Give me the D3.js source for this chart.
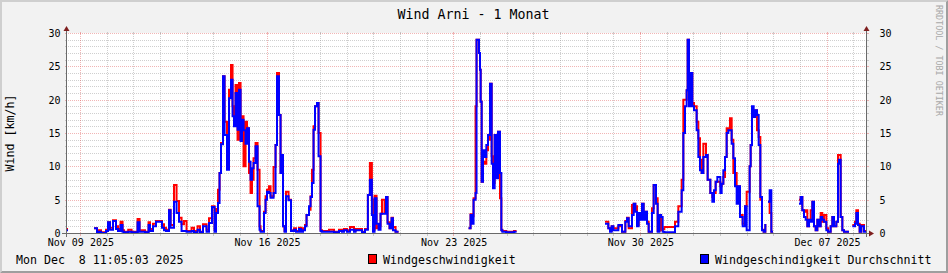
<!DOCTYPE html>
<html><head><meta charset="utf-8">
<script src="https://cdn.jsdelivr.net/npm/d3@7"></script>
<style>
html,body{margin:0;padding:0;background:#f2f2f2;}
svg{display:block;}
text{font-family:"DejaVu Sans Mono",monospace;fill:#000;}
</style></head><body>
<svg id="c" width="948" height="273"></svg>
<script>
// ---------------- data ----------------
const chartTitle = "Wind Arni - 1 Monat";
const yAxisLabel = "Wind [km/h]";
const watermark = "RRDTOOL / TOBI OETIKER";
const timestampText = "Mon Dec  8 11:05:03 2025";
const seriesNames = ["Windgeschwindigkeit", "Windgeschindigkeit Durchschnitt"];
const seriesColors = ["#ff0000", "#0000ff"];
const rangeStart = "2025-11-08T11:05:03Z";
const rangeEnd = "2025-12-08T11:05:03Z";
const yMax = 30;
const yTickValues = [0, 5, 10, 15, 20, 25, 30];
const dateTickValues = ["2025-11-09", "2025-11-16", "2025-11-23", "2025-11-30", "2025-12-07"];

// hours since rangeStart at which each step begins (step holds until next entry)
const hours = [
0,1.8,25.2,27.9,29.7,31.5,36,37.8,39.6,42.3,45,46.8,49.1,50.9,52.2,56,59,64.4,66.2,71.1,
74.3,75.6,78.3,81,86.4,88.2,90,92.7,94.1,97.2,99.5,101.7,104,106.2,108.5,113,115.2,118.4,120.6,123.3,
126.5,128.7,131.4,133.7,135,136.8,138.2,139.5,141.3,142.7,144.9,146.7,148.5,149.9,151.2,152.6,154.4,155.7,157.1,158.4,
159.8,161.6,162.9,164.7,166.1,167.4,168.8,170.6,172.4,174.2,175.1,178.2,179.6,180.9,182.7,184.1,186.8,188.6,189.9,191.7,
193.1,194,195.3,196.7,198,200.3,202.5,205.2,207,209.7,211.5,213.3,215.1,216.5,218.7,220.1,221.4,222.8,224.1,225.9,
227.3,229.1,230.4,236.7,241.2,245.7,248.4,250.2,252.9,255.6,259.2,260.6,266.4,269.1,271.7,273.5,275.3,276.3,277.7,279.5,
281.3,283.1,284.4,286.7,288,289.4,291.2,293,294.3,296.6,299.3,362.3,364.1,365.4,366.8,368.6,369.5,371.7,372.6,373.2,
374.1,375.3,376.8,378.3,379.8,381.6,383.1,384.3,385.8,387.3,388.8,390.6,391.8,392.7,396,403.2,405.5,485.1,488.1,489.6,
491.1,492.6,497.1,500.4,503.4,504.9,506.4,509.4,510.9,512.4,513.9,515.4,516.9,518.4,519.9,521.4,522.9,524.4,527.4,528.9,
531,532.5,534.1,535.6,537,538.5,548.1,551.1,554.1,555.6,557.1,558.6,559.5,560.7,562.2,563.7,565.2,567.6,569.1,570.6,
572.1,573.6,576,577.5,579.9,581.7,583.2,584.7,586.2,588.9,590.1,591.6,593.1,594.6,596.1,597.6,599.1,600.6,602.1,603.6,
605.1,606.6,609,611.1,612.6,615.3,616.2,617.4,618.9,620.4,621.9,623.4,624.9,626.4,627.9,629.4,630.3,631.8,633.3,634.8,
636.3,659.7,661.2,662.7,664.2,665.7,667.2,668.7,670.2,671.7,673.2,674.7,676.2,677.7,679.2,680.7,682.2,684.3,685.8,688.2,
689.7,691.2,693.3,694.8,695.7,697.2,698.7,700.2,704.7,707.7,710.1,711.3,712.8,714.3,715.8,718.2,720
];
// Windgeschwindigkeit (km/h), null = no data
const gust = [
0.6,null,0.7,0.1,0.4,0.1,0.5,1.6,0.8,1.9,1.0,0.6,1.7,0.4,0.2,0.5,0.2,2.1,0.4,0.2,
1.6,0.6,1.4,1.8,1.3,0.8,0.5,3.5,1.2,7.2,4.8,2.3,1.3,1.8,0.3,0.8,0.3,1.0,0.2,1.3,
0.5,2.2,4.0,0.5,3.6,6.5,9.0,13.5,23.5,16.7,11.2,21.5,25.2,19.0,16.5,22.2,14.0,22.5,14.5,17.5,
10.0,16.7,15.7,9.0,6.0,8.0,11.2,13.5,9.5,1.0,0.3,3.2,5.5,6.5,7.0,5.5,9.9,13.2,24.0,17.7,
9.0,11.7,1.0,0.3,6.2,5.0,0.4,0.7,0.3,0.8,0.3,0.7,1.2,2.7,3.5,5.5,9.5,16.0,19.0,19.5,
15.0,0.4,0.3,0.5,0.2,0.5,0.3,0.6,0.4,0.9,0.3,0.6,0.2,0.6,5.7,10.5,5.0,0.5,5.6,0.7,
1.0,2.9,5.0,3.0,5.4,1.6,0.7,2.3,0.9,0.2,null,0.7,2.8,2.5,5.2,19.0,29.0,27.0,24.5,19.7,
7.7,10.7,10.4,12.4,14.0,22.4,11.5,7.5,14.7,12.0,15.2,5.2,0.5,0.3,0.2,0.3,null,1.7,0.7,0.3,
1.0,0.7,1.0,0.2,1.8,2.3,0.7,4.2,4.4,4.0,1.2,3.0,2.2,4.4,2.3,3.2,1.7,0.2,3.7,7.2,
5.2,0.3,2.7,0.4,0.6,0.9,1.7,4.0,8.0,20.0,20.0,21.4,29.0,20.4,24.0,19.5,19.0,16.7,14.2,11.0,
9.0,13.4,11.7,8.0,6.0,5.4,6.0,7.7,7.7,7.0,7.4,8.4,11.4,15.7,15.4,17.2,14.0,9.0,9.0,7.0,
7.0,2.7,1.4,4.0,6.2,10.0,13.2,17.4,17.4,18.4,15.4,14.4,5.0,0.5,0.2,1.2,null,4.7,3.0,0.2,
null,5.0,5.4,3.4,3.2,3.4,1.0,2.0,3.4,4.7,1.0,0.4,2.0,1.0,3.0,1.7,2.7,0.7,0.2,1.0,
2.4,1.0,1.7,11.7,11.7,2.4,0.4,0.2,null,1.2,1.7,3.4,1.4,0.2,1.2,0.3,null
];
// Windgeschindigkeit Durchschnitt (km/h), null = no data
const avg = [
0.4,null,0.7,0.0,0.2,0.0,0.3,1.6,0.5,1.8,0.6,0.3,1.2,0.2,0.1,0.2,0.1,1.6,0.2,0.1,
1.2,0.3,1.0,1.7,0.8,0.4,0.3,3.4,0.8,4.7,3.0,1.7,0.3,0.3,0.2,0.3,0.1,0.5,0.1,1.0,
0.2,1.5,3.9,0.2,3.0,4.5,9.0,13.3,23.5,14.7,9.5,20.2,23.0,17.5,16.0,21.0,15.5,21.5,13.8,17.0,
15.4,13.4,15.7,10.7,8.0,9.7,10.5,13.0,4.0,0.5,0.2,3.0,5.0,6.2,6.0,5.3,6.0,13.2,23.5,17.7,
9.0,11.7,1.0,0.2,5.5,4.9,0.3,0.5,0.2,0.6,0.2,0.4,1.0,2.7,4.0,5.4,7.5,15.5,19.0,19.5,
11.5,0.3,0.2,0.2,0.1,0.3,0.2,0.4,0.2,0.5,0.2,0.4,0.1,0.5,5.7,8.0,2.7,0.2,5.2,1.4,
0.5,2.9,2.9,2.9,5.4,1.4,0.7,2.2,0.4,0.2,null,0.7,2.7,1.4,5.0,6.0,29.0,27.0,24.5,19.7,
7.7,12.4,11.4,13.2,14.7,22.4,10.4,6.7,14.7,8.2,15.2,9.0,0.4,0.2,0.1,0.2,null,1.4,0.7,0.2,
1.0,0.4,1.2,0.2,1.7,2.2,1.0,2.7,4.4,3.2,1.0,3.0,2.0,4.4,2.0,3.2,1.4,0.2,3.0,7.2,
4.4,0.2,2.7,2.4,0.2,0.1,1.0,3.2,6.4,15.0,19.0,21.4,29.0,19.0,24.0,19.0,18.4,15.4,11.4,9.4,
9.0,11.4,11.7,8.0,6.0,4.7,6.4,7.7,8.4,6.0,7.4,9.4,11.4,15.0,15.4,15.4,13.4,11.2,7.0,4.4,
7.0,2.4,1.0,4.0,0.4,10.0,13.2,19.0,17.4,18.4,17.7,13.2,5.4,0.4,0.2,1.2,null,4.7,6.4,0.2,
null,4.4,5.4,3.4,2.4,2.0,1.0,2.0,1.7,4.7,1.0,0.4,2.0,1.0,2.4,2.0,1.7,0.4,0.2,1.0,
2.4,1.0,1.7,10.4,11.0,2.4,0.4,0.2,null,1.0,1.4,3.0,1.2,0.2,1.0,0.2,null
];

// ---------------- drawing ----------------
const W = 948, H = 273;
const svg = d3.select("#c");
const FONT = "'DejaVu Sans Mono', monospace";

const t0 = new Date(rangeStart), t1 = new Date(rangeEnd);
const x = d3.scaleUtc().domain([t0, t1]).range([66, 866]);
const y = d3.scaleLinear().domain([0, yMax]).range([233, 33]);
const gx = t => Math.floor(x(t)) + 0.5;
const gy = v => Math.round(y(v)) + 0.5;
const X0 = 66.5, X1 = 866.5, Y0 = 233.5, Y1 = 33.5;

// background + 3d border
svg.append("rect").attr("width", W).attr("height", H).attr("fill", "#f2f2f2");
svg.append("path").attr("d", `M0,0H${W}L${W-2},2H2V${H-2}L0,${H}Z`).attr("fill", "#cfcfcf");
svg.append("path").attr("d", `M${W},${H}H0L2,${H-2}H${W-2}V2L${W},0Z`).attr("fill", "#9e9e9e");
// canvas
svg.append("rect").attr("x", 66).attr("y", 33).attr("width", 801).attr("height", 201).attr("fill", "#fff");

const minorCol = "rgba(140,140,140,0.42)";
const majorCol = "rgba(222,79,79,0.42)";
const grid = svg.append("g").attr("shape-rendering", "crispEdges");

// horizontal grid
for (let v = 0; v <= yMax; v++) {
  const isMajor = yTickValues.includes(v);
  const col = isMajor ? majorCol : minorCol;
  const yy = gy(v);
  grid.append("line").attr("x1", X0 - 2).attr("x2", X0).attr("y1", yy).attr("y2", yy).attr("stroke", col);
  grid.append("line").attr("x1", X1).attr("x2", X1 + 2).attr("y1", yy).attr("y2", yy).attr("stroke", col);
  grid.append("line").attr("x1", X0 + 1).attr("x2", X1).attr("y1", yy).attr("y2", yy)
    .attr("stroke", col).attr("stroke-dasharray", "1,1");
}
// vertical grid
const majorDates = dateTickValues.map(s => new Date(s + "T00:00:00Z"));
const days = d3.utcDay.range(d3.utcDay.ceil(t0), t1);
days.forEach(d => {
  const isMajor = majorDates.some(m => +m === +d);
  const col = isMajor ? majorCol : minorCol;
  const xx = gx(d);
  grid.append("line").attr("x1", xx).attr("x2", xx).attr("y1", Y0).attr("y2", Y0 + 2).attr("stroke", col);
  grid.append("line").attr("x1", xx).attr("x2", xx).attr("y1", Y1 - 2).attr("y2", Y1).attr("stroke", col);
  grid.append("line").attr("x1", xx).attr("x2", xx).attr("y1", Y1).attr("y2", Y0)
    .attr("stroke", col).attr("stroke-dasharray", "1,1");
});

// data lines (step)
function stepPoints(vals) {
  const pts = [];
  for (let i = 0; i < hours.length - 1; i++) {
    const a = new Date(+t0 + hours[i] * 3600e3), b = new Date(+t0 + hours[i + 1] * 3600e3);
    pts.push([a, vals[i]], [b, vals[i]]);
  }
  return pts;
}
const line = d3.line().defined(d => d[1] != null).x(d => x(d[0])).y(d => y(d[1]));
[gust, avg].forEach((vals, k) => {
  svg.append("path").attr("d", line(stepPoints(vals))).attr("fill", "none")
    .attr("stroke", seriesColors[k]).attr("stroke-width", 2).attr("stroke-linejoin", "miter");
});

// axes lines + arrows
const axisCol = "#6a6a6a", arrowCol = "#7f1f1f";
const ax = svg.append("g").attr("shape-rendering", "crispEdges");
ax.append("line").attr("x1", 62).attr("x2", 870).attr("y1", Y0).attr("y2", Y0).attr("stroke", axisCol);
ax.append("line").attr("x1", X0).attr("x2", X0).attr("y1", 237).attr("y2", 30).attr("stroke", axisCol);
ax.append("line").attr("x1", X1).attr("x2", X1).attr("y1", 237).attr("y2", 30).attr("stroke", axisCol);
svg.append("path").attr("d", `M869,230.5L869,236.5L874,233.5Z`).attr("fill", arrowCol);
svg.append("path").attr("d", `M63.5,31L69.5,31L66.5,26Z`).attr("fill", arrowCol);
svg.append("path").attr("d", `M863.5,31L869.5,31L866.5,26Z`).attr("fill", arrowCol);

// axis labels via d3 axes
function styleAxis(g) {
  g.select(".domain").remove();
  g.selectAll(".tick line").remove();
  g.attr("font-family", FONT).attr("font-size", 10);
  g.selectAll("text").attr("fill", "#000");
}
svg.append("g").attr("transform", "translate(60.5,0)")
  .call(d3.axisLeft(y).tickValues(yTickValues).tickSize(0).tickPadding(0).tickFormat(d3.format("d")))
  .call(styleAxis).selectAll("text").attr("dy", "0.34em");
svg.append("g").attr("transform", "translate(879.5,0)")
  .call(d3.axisRight(y).tickValues(yTickValues).tickSize(0).tickPadding(0).tickFormat(d3.format("d")))
  .call(styleAxis).selectAll("text").attr("dy", "0.34em");
svg.append("g").attr("transform", "translate(0,237)")
  .call(d3.axisBottom(x).tickValues(majorDates).tickSize(0).tickPadding(0).tickFormat(d3.utcFormat("%b %d %Y")))
  .call(styleAxis).selectAll("text").attr("y", 0).attr("dy", "0.85em");

// title
svg.append("text").attr("x", 473.5).attr("y", 18.5).attr("text-anchor", "middle")
  .attr("font-size", 13.3).text(chartTitle);
// y label
svg.append("text").attr("transform", "translate(13.8,133) rotate(-90)").attr("text-anchor", "middle")
  .attr("font-size", 11.6).text(yAxisLabel);
// watermark
svg.append("text").attr("transform", "translate(935.5,5) rotate(90)").attr("text-anchor", "start")
  .attr("font-size", 8.4).style("fill", "#a8a8a8").text(watermark);

// footer
svg.append("text").attr("x", 16).attr("y", 263.5).attr("font-size", 11.6)
  .attr("xml:space", "preserve").style("white-space", "pre").text(timestampText);
const legendX = [368, 700];
seriesNames.forEach((name, k) => {
  svg.append("rect").attr("x", legendX[k] + 0.5).attr("y", 254.5).attr("width", 8).attr("height", 9)
    .attr("fill", seriesColors[k]).attr("stroke", "#000").attr("shape-rendering", "crispEdges");
  svg.append("text").attr("x", legendX[k] + 15).attr("y", 263.5).attr("font-size", 11.6).text(name);
});
</script>
</body></html>
